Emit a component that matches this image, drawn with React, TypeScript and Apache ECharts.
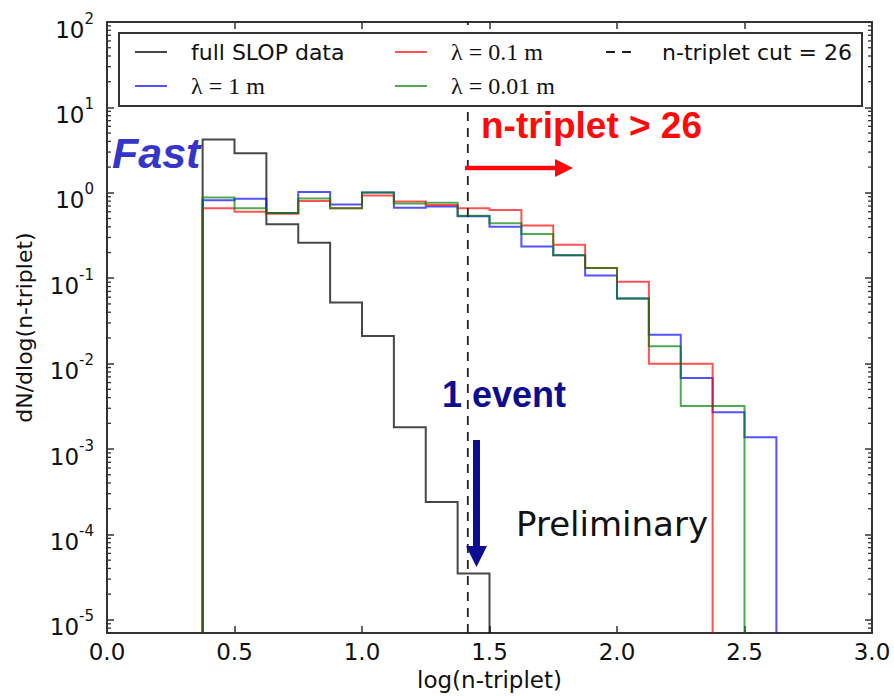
import React, { useEffect, useRef } from "react";
import * as echarts from "echarts";

// ---- data ----
const binEdges = [0.375, 0.5, 0.625, 0.75, 0.875, 1.0, 1.125, 1.25, 1.375, 1.5, 1.625, 1.75, 1.875, 2.0, 2.125, 2.25, 2.375, 2.5, 2.625];
const fullSlop = [4.2, 2.9, 0.43, 0.26, 0.052, 0.021, 0.0018, 0.00024, 0.000035];
const lambda1m = [0.82, 0.85, 0.58, 1.02, 0.73, 1.01, 0.67, 0.69, 0.53, 0.4, 0.236, 0.186, 0.108, 0.058, 0.0218, 0.0068, 0.0027, 0.00137];
const lambda01m = [0.66, 0.6, 0.57, 0.8, 0.66, 0.93, 0.79, 0.72, 0.66, 0.63, 0.415, 0.247, 0.132, 0.091, 0.01, 0.01];
const lambda001m = [0.88, 0.66, 0.58, 0.86, 0.66, 1.01, 0.75, 0.765, 0.54, 0.44, 0.329, 0.186, 0.132, 0.058, 0.016, 0.0032, 0.0032];
const nTripletCut = 26;

const seriesNames = ["full SLOP data", "λ = 1 m", "λ = 0.1 m", "λ = 0.01 m", "n-triplet cut = 26"];
const xMin = 0;
const xMax = 3;
const xInterval = 0.5;
const yMin = 7e-6;
const yMax = 100;
const minorDecades = [-6, -5, -4, -3, -2, -1, 0, 1];
const minorMantissas = [2, 3, 4, 5, 6, 7, 8, 9];

const FONT = "DejaVu Sans";
const SERIF = "Liberation Serif";

function stepData(values: number[]) {
  const pts: number[][] = [[binEdges[0], yMin]];
  values.forEach((v, i) => pts.push([binEdges[i], v]));
  pts.push([binEdges[values.length], values[values.length - 1]]);
  pts.push([binEdges[values.length], yMin]);
  return pts;
}

export default function App() {
  const ref = useRef<HTMLDivElement>(null);
  useEffect(() => {
    if (!ref.current) return;
    const chart = echarts.init(ref.current, null, { renderer: "svg" });

    const minorTicks: number[][] = [];
    minorDecades.forEach((d) =>
      minorMantissas.forEach((m) => {
        const v = m * Math.pow(10, d);
        if (v > yMin && v < yMax) minorTicks.push([xMin, v]);
      })
    );

    const cutX = Math.log10(nTripletCut);
    const axisColor = "#333";

    const histLine = (name: string, values: number[], color: string) => ({
      name,
      type: "line",
      step: "end",
      data: stepData(values),
      showSymbol: false,
      symbol: "none",
      lineStyle: { color, width: 2, join: "miter" },
      itemStyle: { color },
      z: 2,
    });

    const legendBase = {
      orient: "horizontal",
      padding: 0,
      itemWidth: 32,
      itemHeight: 24,
      itemGap: 0,
      selectedMode: false,
      z: 6,
      itemStyle: { opacity: 0, borderWidth: 0 },
      textStyle: { fontSize: 22, fontFamily: FONT, color: "#111", padding: [0, 0, 0, 19], lineHeight: 24 },
    };
    const serifText = { fontSize: 24, fontFamily: SERIF, color: "#111", padding: [0, 0, 0, 19], lineHeight: 24 };

    const option: any = {
      animation: false,
      backgroundColor: "#fff",
      grid: { left: 107, right: 22, top: 22, bottom: 60, containLabel: false },
      xAxis: [
        {
          type: "value",
          min: xMin,
          max: xMax,
          interval: xInterval,
          position: "bottom",
          axisLine: { show: true, onZero: false, lineStyle: { color: axisColor, width: 2 } },
          axisTick: { show: true, inside: true, length: 7, lineStyle: { color: axisColor, width: 1.5 } },
          splitLine: { show: false },
          axisLabel: {
            margin: 7,
            fontSize: 23,
            fontFamily: FONT,
            color: "#111",
            formatter: (v: number) => v.toFixed(1),
          },
          name: "log(n-triplet)",
          nameLocation: "middle",
          nameGap: 32,
          nameTextStyle: { fontSize: 23, fontFamily: FONT, color: "#111" },
        },
        {
          type: "value",
          min: xMin,
          max: xMax,
          interval: xInterval,
          position: "top",
          axisLine: { show: true, onZero: false, lineStyle: { color: axisColor, width: 2 } },
          axisTick: { show: true, inside: true, length: 7, lineStyle: { color: axisColor, width: 1.5 } },
          splitLine: { show: false },
          axisLabel: { show: false },
        },
      ],
      yAxis: [
        {
          type: "log",
          logBase: 10,
          min: yMin,
          max: yMax,
          position: "left",
          axisLine: { show: true, onZero: false, lineStyle: { color: axisColor, width: 2 } },
          axisTick: { show: true, inside: true, length: 7, lineStyle: { color: axisColor, width: 1.5 } },
          splitLine: { show: false },
          axisLabel: {
            margin: 13,
            padding: [8, 0, 0, 0],
            formatter: (v: number) => {
              const l = Math.log10(v);
              const e = Math.round(l);
              if (Math.abs(l - e) > 1e-6) return "";
              return `{b|10}{s|${e}}`;
            },
            rich: {
              b: { fontSize: 23, fontFamily: FONT, color: "#111", lineHeight: 30, verticalAlign: "bottom" },
              s: { fontSize: 15, fontFamily: FONT, color: "#111", verticalAlign: "top" },
            },
          },
          name: "dN/dlog(n-triplet)",
          nameLocation: "middle",
          nameGap: 72,
          nameRotate: 90,
          nameTextStyle: { fontSize: 22, fontFamily: FONT, color: "#111" },
        },
        {
          type: "log",
          logBase: 10,
          min: yMin,
          max: yMax,
          position: "right",
          axisLine: { show: true, onZero: false, lineStyle: { color: axisColor, width: 2 } },
          axisTick: { show: true, inside: true, length: 7, lineStyle: { color: axisColor, width: 1.5 } },
          splitLine: { show: false },
          axisLabel: { show: false },
        },
      ],
      legend: [
        { ...legendBase, data: [seriesNames[0]], left: 134, top: 40 },
        { ...legendBase, data: [seriesNames[1]], left: 134, top: 74, textStyle: serifText },
        { ...legendBase, data: [seriesNames[2]], left: 394, top: 40, textStyle: serifText },
        { ...legendBase, data: [seriesNames[3]], left: 394, top: 74, textStyle: serifText },
        { ...legendBase, data: [seriesNames[4]], left: 605, top: 40 },
      ],
      series: [
        histLine(seriesNames[0], fullSlop, "rgba(0,0,0,0.72)"),
        histLine(seriesNames[1], lambda1m, "rgba(0,0,255,0.68)"),
        histLine(seriesNames[2], lambda01m, "rgba(255,0,0,0.68)"),
        histLine(seriesNames[3], lambda001m, "rgba(0,128,0,0.68)"),
        {
          name: seriesNames[4],
          type: "line",
          data: [
            [cutX, yMin],
            [cutX, yMax],
          ],
          showSymbol: false,
          symbol: "none",
          lineStyle: { color: "#222", width: 1.8, type: [9, 7] },
          itemStyle: { color: "#222" },
          z: 2,
        },
        {
          type: "custom",
          silent: true,
          clip: false,
          data: minorTicks,
          renderItem: (params: any, api: any) => {
            const v = api.value(1);
            const pL = api.coord([xMin, v]);
            const pR = api.coord([xMax, v]);
            return {
              type: "group",
              children: [
                { type: "line", shape: { x1: pL[0], y1: pL[1], x2: pL[0] + 4, y2: pL[1] }, style: { stroke: axisColor, lineWidth: 1.3 } },
                { type: "line", shape: { x1: pR[0] - 4, y1: pR[1], x2: pR[0], y2: pR[1] }, style: { stroke: axisColor, lineWidth: 1.3 } },
              ],
            };
          },
          z: 3,
        },
      ],
      graphic: [
        {
          type: "rect",
          z: 5,
          shape: { x: 119, y: 33, width: 743, height: 73 },
          style: { fill: "#fff", stroke: "#333", lineWidth: 2 },
        },
        {
          type: "text",
          z: 7,
          style: { x: 112, y: 153, text: "Fast", font: "italic bold 43px 'Liberation Sans'", fill: "#3535c8", verticalAlign: "middle" },
        },
        {
          type: "text",
          z: 7,
          style: { x: 481, y: 125, text: "n-triplet > 26", font: "bold 37px 'Liberation Sans'", fill: "#ff0a0a", verticalAlign: "middle" },
        },
        {
          type: "line",
          z: 7,
          shape: { x1: 465, y1: 168, x2: 560, y2: 168 },
          style: { stroke: "#ff0a0a", lineWidth: 4.5 },
        },
        {
          type: "polygon",
          z: 7,
          shape: { points: [[555, 159], [573, 168], [555, 177]] },
          style: { fill: "#ff0a0a" },
        },
        {
          type: "text",
          z: 7,
          style: { x: 442, y: 394, text: "1 event", font: "bold 36px 'Liberation Sans'", fill: "#0d0d91", verticalAlign: "middle" },
        },
        {
          type: "line",
          z: 7,
          shape: { x1: 476.5, y1: 440, x2: 476.5, y2: 550 },
          style: { stroke: "#0d0d91", lineWidth: 7 },
        },
        {
          type: "polygon",
          z: 7,
          shape: { points: [[466, 546], [487, 546], [476.5, 567]] },
          style: { fill: "#0d0d91" },
        },
        {
          type: "text",
          z: 7,
          style: { x: 516, y: 524, text: "Preliminary", font: "34px 'DejaVu Sans'", fill: "#111", verticalAlign: "middle" },
        },
      ],
    };

    chart.setOption(option);
    return () => chart.dispose();
  }, []);

  return <div ref={ref} style={{ position: "fixed", left: 0, top: 0, width: 894, height: 696 }} />;
}
